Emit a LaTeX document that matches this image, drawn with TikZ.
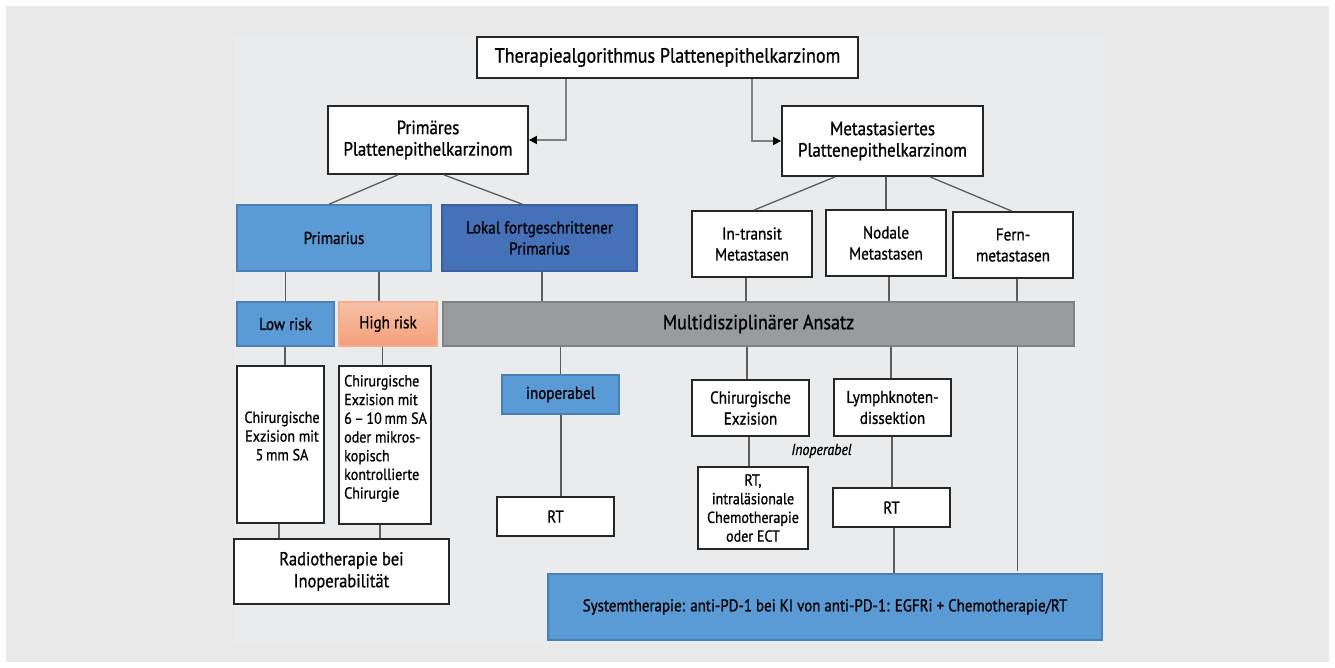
\documentclass[tikz,border=0pt]{standalone}
\usepackage{fontspec}
\setmainfont{PT Sans}[FakeStretch=0.88, FakeBold=0.9]
\usetikzlibrary{arrows.meta}

\definecolor{bgout}{HTML}{E9E9E9}
\definecolor{bgin}{HTML}{EAEBEC}
\definecolor{lblue}{HTML}{5A9AD5}
\definecolor{lblueline}{HTML}{4A80B8}
\definecolor{dblue}{HTML}{4571B8}
\definecolor{dblueline}{HTML}{3A5E9E}
\definecolor{salmontop}{HTML}{F7C1A6}
\definecolor{salmonbot}{HTML}{F49F7A}
\definecolor{salmonline}{HTML}{F2AE8C}
\definecolor{midgray}{HTML}{999B9D}
\definecolor{midgrayline}{HTML}{808284}
\definecolor{connline}{HTML}{5C5C5C}

\tikzset{
  wbox/.style={draw=black!85, line width=1.8, fill=white, align=center},
  bluebox/.style={draw=lblueline, line width=1.5, fill=lblue, align=center},
  darkbox/.style={draw=dblueline, line width=1.5, fill=dblue, align=center},
  riskbox/.style={draw=salmonline, line width=1.5, top color=salmontop, bottom color=salmonbot, align=center},
  graybox/.style={draw=midgrayline, line width=1.5, fill=midgray, align=center},
  headtxt/.style={font=\fontsize{20.5}{23}\selectfont},
  bigtxt/.style={font=\fontsize{19.2}{21.5}\selectfont},
  normtxt/.style={font=\fontsize{17.2}{21}\selectfont},
  tighttxt/.style={font=\fontsize{16}{18.7}\selectfont},
  conn/.style={draw=connline, line width=1.3},
  arr/.style={draw=gray, line width=1.6, -{Triangle[length=8,width=8,color=black]}}
}

\begin{document}
\begin{tikzpicture}[x=1pt,y=1pt]
        \tikzstyle{every node}+=[inner sep=0pt]
        % background
        \fill[white] (0,0) rectangle (1335,-668);
        \fill[bgout] (6,-6) rectangle (1329,-662);
        \fill[bgin] (234,-36) rectangle (1104,-644);

        % top
        \node[wbox, headtxt, minimum width=381, minimum height=41] (title) at (667.5,-57.5) {Therapiealgorithmus Plattenepithelkarzinom};
        \node[wbox, bigtxt, minimum width=200, minimum height=68] (prim) at (428,-140) {Primäres\\Plattenepithelkarzinom};
        \node[wbox, bigtxt, minimum width=201, minimum height=70] (meta) at (882.5,-141) {Metastasiertes\\Plattenepithelkarzinom};
        \draw[arr] ([xshift=-101.5]title.south) |- (prim.east);
        \draw[arr] ([xshift=84.5]title.south) |- (meta.west);

        % second row
        \node[bluebox, normtxt, minimum width=194, minimum height=66] (primarius) at (334,-238) {Primarius};
        \node[darkbox, normtxt, minimum width=195, minimum height=66] (lokal) at (539.5,-238) {Lokal fortgeschrittener\\Primarius};
        \node[wbox, normtxt, minimum width=120, minimum height=66] (intransit) at (752,-244) {In-transit\\Metastasen};
        \node[wbox, normtxt, minimum width=120, minimum height=66] (nodale) at (886,-243) {Nodale\\Metastasen};
        \node[wbox, normtxt, minimum width=120, minimum height=66] (fern) at (1013,-245) {Fern-\\metastasen};
        \draw[conn] ([xshift=-30]prim.south) -- ([xshift=-5]primarius.north);
        \draw[conn] ([xshift=16]prim.south) -- ([xshift=-17]lokal.north);
        \draw[conn] ([xshift=-47.5]meta.south) -- ([xshift=2]intransit.north);
        \draw[conn] ([xshift=3.5]meta.south) -- (nodale.north);
        \draw[conn] ([xshift=47.5]meta.south) -- ([xshift=-1.3]fern.north);

        % third row
        \node[bluebox, normtxt, minimum width=97, minimum height=44] (lowrisk) at (285.5,-324) {Low risk};
        \node[riskbox, normtxt, minimum width=98, minimum height=44] (highrisk) at (388,-324) {High risk};
        \node[graybox, headtxt, minimum width=631, minimum height=44] (multi) at (758.5,-324) {Multidisziplinärer Ansatz};
        \draw[conn] ([xshift=-48.5]primarius.south) -- (lowrisk.north);
        \draw[conn] ([xshift=45]primarius.south) -- ([xshift=-9]highrisk.north);
        \draw[conn] ([xshift=2.5]lokal.south) -- ([xshift=-216.5]multi.north);
        \draw[conn] ([xshift=-6]intransit.south) -- ([xshift=-12.5]multi.north);
        \draw[conn] ([xshift=3]nodale.south) -- ([xshift=130.5]multi.north);
        \draw[conn] ([xshift=4]fern.south) -- ([xshift=258.5]multi.north);

        % surgery row
        \node[wbox, minimum width=87, minimum height=157] (chirA) at (280.5,-444.5) {};
        \node[tighttxt, align=center] (chirAtxt) at (282,-436) {Chirurgische\\Exzision mit\\5\,mm SA};
        \node[wbox, minimum width=92, minimum height=158] (chirB) at (385,-445) {};
        \node[tighttxt, align=left] (chirBtxt) at (385.5,-438.5) {Chirurgische\\Exzision mit\\6\,–\,10\,mm SA\\oder mikros-\\kopisch\\kontrollierte\\Chirurgie};
        \node[bluebox, normtxt, minimum width=117, minimum height=39] (inop) at (560.5,-394.5) {inoperabel};
        \node[wbox, normtxt, minimum width=117, minimum height=56] (chirEx) at (750.5,-408) {Chirurgische\\Exzision};
        \node[wbox, normtxt, minimum width=117, minimum height=57] (lymph) at (892.5,-407.5) {Lymphknoten-\\dissektion};
        \node[font=\fontsize{15.8}{18}\selectfont\itshape] (inoptxt) at (821.5,-451) {Inoperabel};
        \draw[conn] ([xshift=-0.5]lowrisk.south) -- ([xshift=4.5]chirA.north);
        \draw[conn] ([xshift=-5.3]highrisk.south) -- ([xshift=-2.3]chirB.north);
        \draw[conn] ([xshift=-198]multi.south) -- (inop.north);
        \draw[conn] ([xshift=-11.5]multi.south) -- ([xshift=-3.5]chirEx.north);
        \draw[conn] ([xshift=132.5]multi.south) -- ([xshift=-1.5]lymph.north);

        % lower row
        \node[wbox, font=\fontsize{18.7}{22}\selectfont, minimum width=215, minimum height=65] (radio) at (341.5,-571.5) {Radiotherapie bei\\Inoperabilität};
        \node[wbox, normtxt, minimum width=117, minimum height=39] (rtA) at (555.5,-516.5) {RT};
        \node[wbox, tighttxt, minimum width=110, minimum height=82] (rtintra) at (753,-508) {RT,\\intraläsionale\\Chemotherapie\\oder ECT};
        \node[wbox, normtxt, minimum width=117, minimum height=39] (rtB) at (891.5,-507.5) {RT};
        \draw[conn] ([xshift=-1.5]chirA.south) -- ([xshift=-62.5]radio.north);
        \draw[conn] ([xshift=-5]chirB.south) -- ([xshift=38.5]radio.north);
        \draw[conn] ([xshift=0.5]inop.south) -- ([xshift=5.5]rtA.north);
        \draw[conn] ([xshift=-1.5]chirEx.south) -- ([xshift=-4]rtintra.north);
        \draw[conn] ([xshift=-0.5]lymph.south) -- ([xshift=0.5]rtB.north);

        % system therapy
        \node[bluebox, font=\fontsize{17}{20}\selectfont, minimum width=554, minimum height=66] (system) at (825,-607) {Systemtherapie: anti-PD-1 bei KI von anti-PD-1: EGFRi + Chemotherapie/RT};
        \draw[conn] ([xshift=2.5]rtB.south) -- ([xshift=69]system.north);
        \draw[conn] ([xshift=259]multi.south) -- ([xshift=192.5,yshift=2]system.north);
\end{tikzpicture}
\end{document}
